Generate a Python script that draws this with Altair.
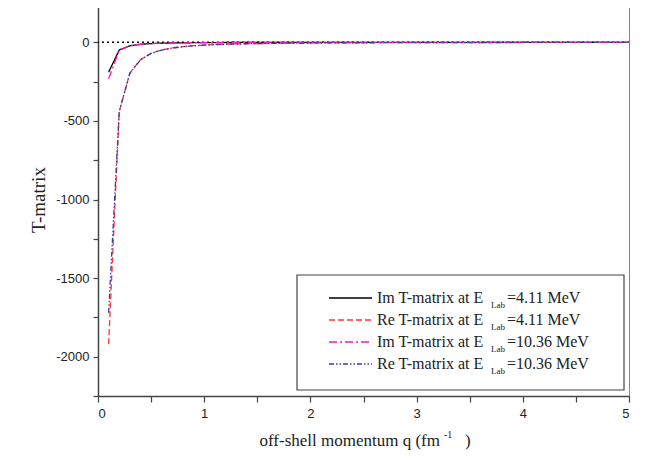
import altair as alt
import pandas as pd

# ---------------- data ----------------
q = [0.1, 0.2, 0.3, 0.4, 0.5, 0.6, 0.7, 0.8, 0.9, 1.0, 1.2, 1.4, 1.6, 1.8,
     2.0, 2.5, 3.0, 3.5, 4.0, 4.5, 5.0]
im_411 = [-190, -49, -22, -12.5, -8, -5.5, -4.1, -3.1, -2.5, -2.0, -1.4, -1.0,
          -0.8, -0.6, -0.5, -0.3, -0.2, -0.15, -0.12, -0.1, -0.08]
re_411 = [-1920, -440, -196, -110, -70, -49, -36, -27.5, -21.7, -17.6, -12.2,
          -9.0, -6.9, -5.4, -4.4, -2.8, -2.0, -1.4, -1.1, -0.9, -0.7]
im_1036 = [-232, -52, -23, -13, -8.3, -5.8, -4.3, -3.2, -2.6, -2.1, -1.5, -1.1,
           -0.8, -0.6, -0.5, -0.3, -0.2, -0.15, -0.12, -0.1, -0.08]
re_1036 = [-1720, -440, -197, -111, -71, -49.5, -36.5, -28, -22, -17.8, -12.3,
           -9.1, -7.0, -5.5, -4.5, -2.9, -2.0, -1.5, -1.1, -0.9, -0.7]

series_values = [im_411, re_411, im_1036, re_1036]
legend_main = ["Im T-matrix at E", "Re T-matrix at E", "Im T-matrix at E", "Re T-matrix at E"]
legend_sub = "Lab"
legend_tail = ["=4.11 MeV", "=4.11 MeV", "=10.36 MeV", "=10.36 MeV"]

x_ticks = [0, 0.5, 1, 1.5, 2, 2.5, 3, 3.5, 4, 4.5, 5]
y_ticks = [-2250, -2000, -1750, -1500, -1250, -1000, -750, -500, -250, 0, 250]

# ---------------- styles / layout ----------------
colors = ["#000000", "#ff3535", "#ff14b4", "#3a3aa8"]
dashes = [[1, 0], [6, 3], [8, 3, 2, 3], [5, 2, 1.5, 2, 1.5, 2]]

W, H = 531, 393
XMIN, XMAX = 0, 5
YMIN, YMAX = -2250, 250


def px2x(px):
    return XMIN + px / W * (XMAX - XMIN)


def py2y(py):
    return YMAX - py / H * (YMAX - YMIN)


xs = alt.Scale(domain=[XMIN, XMAX], nice=False, zero=False)
ys = alt.Scale(domain=[YMIN, YMAX], nice=False, zero=False)

xaxis = alt.Axis(values=x_ticks, labelExpr="datum.value % 1 == 0 ? toString(datum.value) : ''",
                 grid=False, tickSize=6, tickColor="#444", domainColor="#444", domainWidth=1.5,
                 tickWidth=1.2, labelFont="Liberation Sans", labelFontSize=13, labelColor="#222",
                 labelPadding=5, title=None)
yaxis = alt.Axis(values=y_ticks, labelExpr="datum.value % 500 == 0 ? toString(datum.value) : ''",
                 grid=False, tickSize=5, tickColor="#444", domainColor="#444", domainWidth=1.5,
                 tickWidth=1.2, labelFont="Liberation Sans", labelFontSize=13, labelColor="#222",
                 labelPadding=4, title="T-matrix", titleFont="Liberation Serif", titleFontSize=19,
                 titleFontWeight="normal", titleColor="#222", titlePadding=7)


def X(field):
    return alt.X(field, type="quantitative", scale=xs, axis=xaxis)


def Y(field):
    return alt.Y(field, type="quantitative", scale=ys, axis=yaxis)


layers = []

# zero reference line
layers.append(alt.Chart(pd.DataFrame({"z": [0]})).mark_rule(
    color="#000", strokeDash=[2, 3], strokeWidth=1.5).encode(y=Y("z")))

# curves
for vals, col, dsh in zip(series_values, colors, dashes):
    d = pd.DataFrame({"q": q, "t": vals})
    layers.append(alt.Chart(d).mark_line(color=col, strokeDash=dsh, strokeWidth=1.3).encode(
        x=X("q"), y=Y("t")))

# legend box
box = pd.DataFrame({"x1": [px2x(199)], "x2": [px2x(526)], "y1": [py2y(272)], "y2": [py2y(387)]})
layers.append(alt.Chart(box).mark_rect(fill="white", stroke="#444", strokeWidth=1.2).encode(
    x=X("x1"), x2="x2", y=Y("y1"), y2="y2"))

row_py = [295, 317, 339, 361]
for i in range(4):
    yy = py2y(row_py[i])
    seg = pd.DataFrame({"x": [px2x(231), px2x(274)], "y": [yy, yy]})
    layers.append(alt.Chart(seg).mark_line(color=colors[i], strokeDash=dashes[i], strokeWidth=1.3).encode(
        x=X("x"), y=Y("y")))
    t = pd.DataFrame({"x": [px2x(279)], "y": [yy], "s": [legend_main[i]]})
    layers.append(alt.Chart(t).mark_text(align="left", baseline="middle", font="Liberation Serif",
                                         fontSize=16, color="#222").encode(x=X("x"), y=Y("y"), text="s"))
    t2 = pd.DataFrame({"x": [px2x(393)], "y": [py2y(row_py[i] + 7)], "s": [legend_sub]})
    layers.append(alt.Chart(t2).mark_text(align="left", baseline="middle", font="Liberation Serif",
                                          fontSize=9, color="#222").encode(x=X("x"), y=Y("y"), text="s"))
    t3 = pd.DataFrame({"x": [px2x(409)], "y": [yy], "s": [legend_tail[i]]})
    layers.append(alt.Chart(t3).mark_text(align="left", baseline="middle", font="Liberation Serif",
                                          fontSize=16, color="#222").encode(x=X("x"), y=Y("y"), text="s"))

# x axis title with superscript
title_py = 438
xt = pd.DataFrame({"x": [px2x(342)], "y": [py2y(title_py)], "s": ["off-shell momentum q (fm"]})
layers.append(alt.Chart(xt).mark_text(align="right", baseline="middle", font="Liberation Serif",
                                      fontSize=17, color="#222").encode(x=X("x"), y=Y("y"), text="s"))
xs1 = pd.DataFrame({"x": [px2x(346)], "y": [py2y(title_py - 6)], "s": ["-1"]})
layers.append(alt.Chart(xs1).mark_text(align="left", baseline="middle", font="Liberation Serif",
                                       fontSize=10, color="#222").encode(x=X("x"), y=Y("y"), text="s"))
xs2 = pd.DataFrame({"x": [px2x(367)], "y": [py2y(title_py)], "s": [")"]})
layers.append(alt.Chart(xs2).mark_text(align="left", baseline="middle", font="Liberation Serif",
                                       fontSize=17, color="#222").encode(x=X("x"), y=Y("y"), text="s"))

chart = alt.layer(*layers).properties(
    width=W, height=H,
    autosize=alt.AutoSizeParams(type="none"),
    padding={"left": 90, "top": -5, "right": 8, "bottom": 70},
).configure_view(stroke="#888", strokeWidth=1)

chart.save("out.html", embed_options={"renderer": "svg", "actions": False})
